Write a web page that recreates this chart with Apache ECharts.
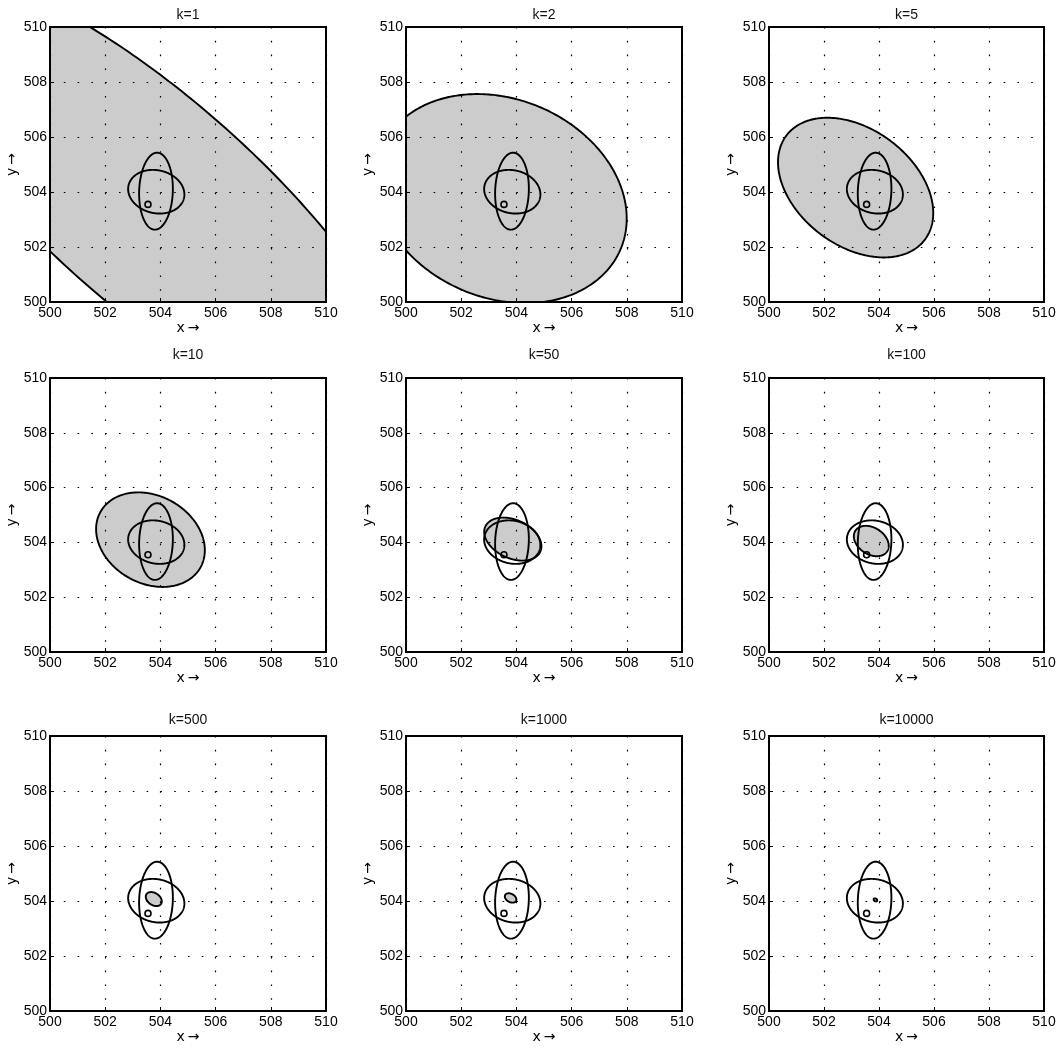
<!DOCTYPE html>
<html><head><meta charset="utf-8">
<script src="https://cdn.jsdelivr.net/npm/echarts@6/dist/echarts.min.js"></script>
<style>html,body{margin:0;padding:0;background:#fff}#c{width:1059px;height:1048px}</style>
</head><body><div id="c"></div>
<script>
// ---- data ----
const panelTitles = ['k=1','k=2','k=5','k=10','k=50','k=100','k=500','k=1000','k=10000'];
// shaded (fused) ellipse per panel: centre, semi-axes, orientation (deg)
const fusedCenterX = [503.70, 503.45, 503.15, 503.64, 503.87, 503.72, 503.76, 503.79, 503.87];
const fusedCenterY = [503.60, 503.76, 504.16, 504.10, 504.12, 504.05, 504.07, 504.11, 504.04];
const fusedSemiMajor = [11.96, 4.70, 3.15, 2.076, 1.096, 0.69, 0.318, 0.225, 0.07];
const fusedSemiMinor = [3.80, 3.61, 2.12, 1.596, 0.70, 0.485, 0.219, 0.15, 0.05];
const fusedAngleDeg = [-41.5, -23.3, -36.9, -29.6, -25.0, -33.4, -34.5, -29.0, -30.0];
// two fixed sensor ellipses (same in every panel)
const sensorCenterX = [503.84, 503.85];
const sensorCenterY = [504.03, 504.01];
const sensorSemiMajor = [1.40, 1.03];
const sensorSemiMinor = [0.61, 0.78];
const sensorAngleDeg = [88, -13];
// true position marker
const truePoint = [503.55, 503.55];
const axisMin = 500, axisMax = 510, axisStep = 2;
const xName = 'x\u2009\u2192', yName = 'y\u2009\u2192';

// ---- layout ----
const colLeft = [50, 406, 769];
const colWidth = [276, 276, 275];
const rowTop = [27, 378, 736];
const rowHeight = [275, 274, 275];
const titleY = [15, 355, 720];
const FONT = 'Liberation Sans';
const NAME_FONT = 'DejaVu Sans';
const FS = 14;

function renderEllipse(params, api) {
  const cx = api.value(0), cy = api.value(1), a = api.value(2), b = api.value(3);
  const ang = api.value(4) * Math.PI / 180, filled = api.value(5);
  const pts = [];
  const N = 360;
  const ca = Math.cos(ang), sa = Math.sin(ang);
  for (let i = 0; i < N; i++) {
    const t = 2 * Math.PI * i / N;
    const ex = a * Math.cos(t), ey = b * Math.sin(t);
    pts.push(api.coord([cx + ex * ca - ey * sa, cy + ex * sa + ey * ca]));
  }
  return {
    type: 'polygon',
    shape: { points: pts },
    style: { fill: filled ? 'rgba(0,0,0,0.2)' : 'none', stroke: '#000', lineWidth: 1.9 }
  };
}

const grids = [], xAxes = [], yAxes = [], series = [], graphics = [];
for (let i = 0; i < 9; i++) {
  const r = Math.floor(i / 3), c = i % 3;
  grids.push({ left: colLeft[c], top: rowTop[r], width: colWidth[c], height: rowHeight[r],
    show: true, borderColor: '#000', borderWidth: 2, backgroundColor: 'transparent', containLabel: false });
  const common = {
    gridIndex: i, type: 'value', min: axisMin, max: axisMax, interval: axisStep,
    axisLine: { show: false },
    axisTick: { show: true, inside: true, length: 4, lineStyle: { color: '#000', width: 1 } },
    splitLine: { show: true, lineStyle: { color: '#000', width: 1.2, type: [1.6, 12.2] } },
    nameLocation: 'middle',
    nameTextStyle: { color: '#000', fontSize: 14, fontFamily: NAME_FONT }
  };
  xAxes.push(Object.assign({}, common, {
    name: xName, nameGap: 17,
    axisLabel: { color: '#000', fontSize: FS, fontFamily: FONT, margin: 4 }
  }));
  yAxes.push(Object.assign({}, common, {
    name: yName, nameGap: 23,
    axisLabel: { color: '#000', fontSize: FS, fontFamily: FONT, margin: 3 }
  }));
  const ellData = [
    [fusedCenterX[i], fusedCenterY[i], fusedSemiMajor[i], fusedSemiMinor[i], fusedAngleDeg[i], 1]
  ];
  for (let s = 0; s < sensorCenterX.length; s++) {
    ellData.push([sensorCenterX[s], sensorCenterY[s], sensorSemiMajor[s], sensorSemiMinor[s], sensorAngleDeg[s], 0]);
  }
  series.push({
    type: 'custom', xAxisIndex: i, yAxisIndex: i, clip: true, silent: true,
    renderItem: renderEllipse, data: ellData, z: 3
  });
  series.push({
    type: 'scatter', xAxisIndex: i, yAxisIndex: i, silent: true, z: 4,
    symbol: 'circle', symbolSize: 6,
    itemStyle: { color: 'transparent', borderColor: '#000', borderWidth: 1.6, opacity: 1 },
    data: [truePoint]
  });
  graphics.push({
    type: 'text', x: colLeft[c] + colWidth[c] / 2, y: titleY[r],
    style: { text: panelTitles[i], textAlign: 'center', textVerticalAlign: 'middle',
      fill: '#111', fontSize: FS, fontFamily: FONT }
  });
}

const chart = echarts.init(document.getElementById('c'), null, { renderer: 'canvas' });
chart.setOption({
  animation: false,
  backgroundColor: '#fff',
  grid: grids, xAxis: xAxes, yAxis: yAxes, series: series,
  graphic: graphics
});
</script></body></html>
